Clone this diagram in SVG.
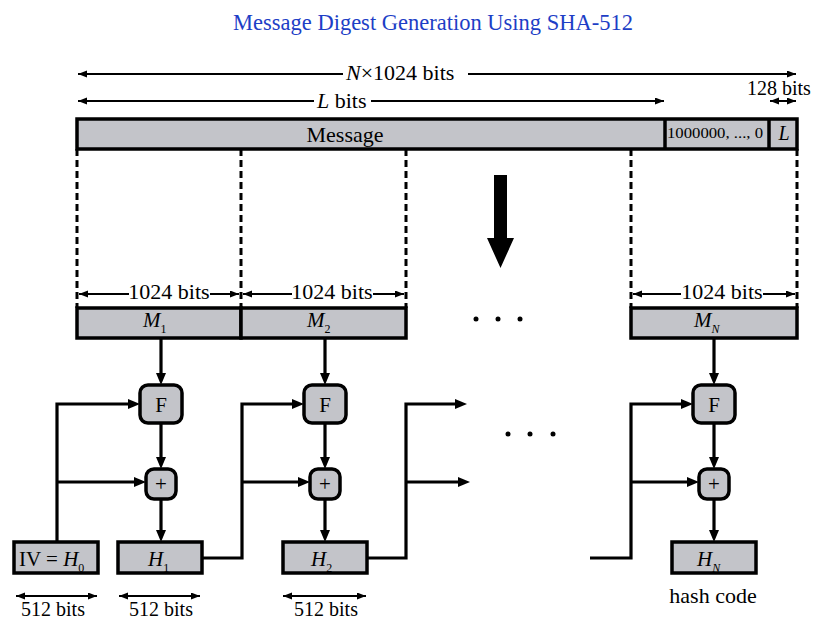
<svg xmlns="http://www.w3.org/2000/svg" width="825" height="622" viewBox="0 0 825 622">
<defs>
<style>
text{font-family:"Liberation Serif","Times New Roman",serif;fill:#000}
.box{fill:#c3c4c9;stroke:#000;stroke-width:3.5}
.con{fill:none;stroke:#000;stroke-width:3.2;marker-end:url(#ah)}
.ln{fill:none;stroke:#000;stroke-width:3.5}
.dim{fill:none;stroke:#000;stroke-width:2;marker-end:url(#dh)}
.dash{fill:none;stroke:#000;stroke-width:3;stroke-dasharray:7 4}
.lbl{font-size:22px}
.it{font-style:italic}
.mid{text-anchor:middle}
</style>
<marker id="ah" markerUnits="userSpaceOnUse" markerWidth="13" markerHeight="11" refX="2" refY="5" orient="auto"><path d="M0,0 L12,5 L0,10 z" fill="#000"/></marker>
<marker id="dh" markerUnits="userSpaceOnUse" markerWidth="10" markerHeight="8" refX="9" refY="3.5" orient="auto"><path d="M0,0 L9,3.5 L0,7 z" fill="#000"/></marker>
</defs>
<rect width="825" height="622" fill="#fff"/>
<text id="title" x="433" y="30" class="mid" style="font-size:22.5px;fill:#1d3ec6">Message Digest Generation Using SHA-512</text>

<g id="dimensions">
<path class="dim" d="M343,74 H78"/><path class="dim" d="M468,74 H796"/>
<text class="lbl" x="346" y="80"><tspan class="it">N</tspan>×1024 bits</text>
<path class="dim" d="M314,101 H78"/><path class="dim" d="M371,101 H664"/>
<text class="lbl" x="317" y="108"><tspan class="it">L</tspan> bits</text>
<path class="dim" d="M783,101 H770"/><path class="dim" d="M783,101 H796"/>
<text x="747" y="95" style="font-size:20px">128 bits</text>
<path class="dim" d="M129,294 H79"/><path class="dim" d="M210,294 H239"/>
<text class="lbl mid" x="169" y="299">1024 bits</text>
<path class="dim" d="M292,294 H243"/><path class="dim" d="M373,294 H404"/>
<text class="lbl mid" x="332" y="299">1024 bits</text>
<path class="dim" d="M681,294 H633"/><path class="dim" d="M763,294 H795"/>
<text class="lbl mid" x="722" y="299">1024 bits</text>
<path class="dim" d="M57,596 H16"/><path class="dim" d="M57,596 H97"/>
<text class="mid" x="53" y="616" style="font-size:20px">512 bits</text>
<path class="dim" d="M160,596 H119"/><path class="dim" d="M160,596 H200"/>
<text class="mid" x="161" y="616" style="font-size:20px">512 bits</text>
<path class="dim" d="M325,596 H283"/><path class="dim" d="M325,596 H366"/>
<text class="mid" x="326" y="616" style="font-size:20px">512 bits</text>
</g>

<g id="message">
<rect class="box" x="77" y="119" width="720" height="30"/>
<line class="ln" x1="665" y1="119" x2="665" y2="149"/>
<line class="ln" x1="769" y1="119" x2="769" y2="149"/>
<text class="lbl mid" x="345" y="142">Message</text>
<text x="667" y="138" style="font-size:15px" textLength="96" lengthAdjust="spacingAndGlyphs">1000000, ..., 0</text>
<text class="it mid" x="784" y="140" style="font-size:20px">L</text>
</g>

<g id="split">
<path class="dash" d="M77,149 V308 M241,149 V308 M406,149 V308 M631,149 V308 M797,149 V308"/>
<polygon points="494,175 507,175 507,238 514,238 500.5,268 487,238 494,238" fill="#000"/>
<circle cx="476" cy="319" r="2.5"/><circle cx="498" cy="319" r="2.5"/><circle cx="520" cy="319" r="2.5"/>
<circle cx="508" cy="434" r="2.5"/><circle cx="530" cy="434" r="2.5"/><circle cx="553" cy="434" r="2.5"/>
</g>

<g id="m1"><rect class="box" x="77" y="308" width="164" height="30"/><text x="143" y="327" class="it" style="font-size:21px">M<tspan dy="6" style="font-size:12px;font-style:normal">1</tspan></text></g>
<g id="m2"><rect class="box" x="241" y="308" width="165" height="30"/><text x="307" y="327" class="it" style="font-size:21px">M<tspan dy="6" style="font-size:12px;font-style:normal">2</tspan></text></g>
<g id="mn"><rect class="box" x="631" y="308" width="166" height="30"/><text x="694" y="327" class="it" style="font-size:21px">M<tspan dy="6" style="font-size:12px">N</tspan></text></g>

<g id="f1"><rect class="box" x="140" y="385" width="42" height="38" rx="8"/><text class="mid" x="161" y="412" style="font-size:21px">F</text></g>
<g id="f2"><rect class="box" x="304" y="385" width="42" height="38" rx="8"/><text class="mid" x="325" y="412" style="font-size:21px">F</text></g>
<g id="fn"><rect class="box" x="693" y="385" width="42" height="38" rx="8"/><text class="mid" x="714" y="412" style="font-size:21px">F</text></g>

<g id="add1"><rect class="box" x="146" y="469" width="30" height="30" rx="8"/><text class="mid" x="161" y="491" style="font-size:21px">+</text></g>
<g id="add2"><rect class="box" x="310" y="469" width="30" height="30" rx="8"/><text class="mid" x="325" y="491" style="font-size:21px">+</text></g>
<g id="addn"><rect class="box" x="699" y="469" width="30" height="30" rx="8"/><text class="mid" x="714" y="491" style="font-size:21px">+</text></g>

<g id="iv"><rect class="box" x="14" y="542" width="84" height="31"/><text x="19" y="566" style="font-size:21px">IV = <tspan class="it">H</tspan><tspan dy="6" style="font-size:12px">0</tspan></text></g>
<g id="h1"><rect class="box" x="118" y="542" width="84" height="31"/><text x="148" y="566" class="it" style="font-size:21px">H<tspan dy="6" style="font-size:12px;font-style:normal">1</tspan></text></g>
<g id="h2"><rect class="box" x="283" y="542" width="84" height="31"/><text x="311" y="566" class="it" style="font-size:21px">H<tspan dy="6" style="font-size:12px;font-style:normal">2</tspan></text></g>
<g id="hn"><rect class="box" x="672" y="542" width="84" height="31"/><text x="697" y="566" class="it" style="font-size:21px">H<tspan dy="6" style="font-size:12px">N</tspan></text>
<text class="lbl mid" x="713" y="603">hash code</text></g>

<g id="connectors">
<path class="con" d="M161,338 V375"/>
<path class="con" d="M161,423 V459"/>
<path class="con" d="M161,499 V532"/>
<path class="con" d="M57,542 V404 H130"/>
<path class="con" d="M57,482 H136"/>
<path class="con" d="M202,558 H242 V404 H294"/>
<path class="con" d="M242,482 H300"/>
<path class="con" d="M325,338 V375"/>
<path class="con" d="M325,423 V459"/>
<path class="con" d="M325,499 V532"/>
<path class="con" d="M367,558 H406 V404 H457"/>
<path class="con" d="M406,482 H460"/>
<path class="con" d="M590,558 H631 V404 H683"/>
<path class="con" d="M631,482 H689"/>
<path class="con" d="M714,338 V375"/>
<path class="con" d="M714,423 V459"/>
<path class="con" d="M714,499 V532"/>
</g>
</svg>
